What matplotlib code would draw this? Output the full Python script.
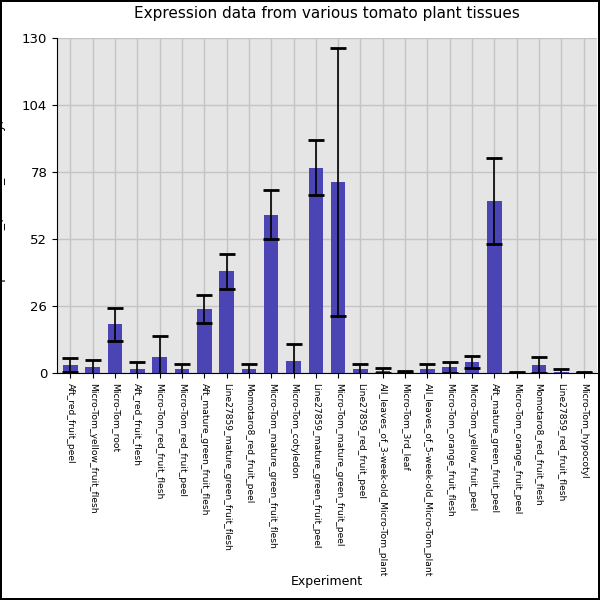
import numpy as np
import matplotlib.pyplot as plt

tissues = ["Aft_red_fruit_peel", "Micro-Tom_yellow_fruit_flesh", "Micro-Tom_root",
           "Aft_red_fruit_flesh", "Micro-Tom_red_fruit_flesh", "Micro-Tom_red_fruit_peel",
           "Aft_mature_green_fruit_flesh", "Line27859_mature_green_fruit_flesh",
           "Momotaro8_red_fruit_peel", "Micro-Tom_mature_green_fruit_flesh",
           "Micro-Tom_cotyledon", "Line27859_mature_green_fruit_peel",
           "Micro-Tom_mature_green_fruit_peel", "Line27859_red_fruit_peel",
           "All_leaves_of_3-week-old_Micro-Tom_plant", "Micro-Tom_3rd_leaf",
           "All_leaves_of_5-week-old_Micro-Tom_plant", "Micro-Tom_orange_fruit_flesh",
           "Micro-Tom_yellow_fruit_peel", "Aft_mature_green_fruit_peel",
           "Micro-Tom_orange_fruit_peel", "Momotaro8_red_fruit_flesh",
           "Line27859_red_fruit_flesh", "Micro-Tom_hypocotyl"]
values = [3.1, 2.3, 19.0, 1.5, 6.2, 1.5, 24.8, 39.5, 1.5, 61.6, 4.7, 79.8,
          74.4, 1.5, 1.0, 0.5, 1.5, 2.3, 4.3, 67.0, 0.3, 3.1, 0.6, 0.3]
errors = [2.8, 3.0, 6.4, 2.7, 8.3, 2.0, 5.5, 6.8, 2.2, 9.5, 6.5, 10.8,
          52.0, 2.0, 0.9, 0.4, 2.0, 2.1, 2.3, 16.7, 0.3, 3.1, 0.9, 0.3]
yticks = [0, 26, 52, 78, 104, 130]

fig = plt.figure(figsize=(6, 6), dpi=100)
fig.patch.set_edgecolor('black')
fig.patch.set_linewidth(1.5)
ax = fig.add_axes([0.095, 0.378, 0.9, 0.558])
ax.set_facecolor('#e5e5e5')
ax.set_axisbelow(True)
ax.grid(True, color='#c4c4c4', linewidth=1)

x = np.arange(len(tissues))
ax.bar(x, values, width=0.65, color='#4b44b5')
ax.errorbar(x, values, yerr=errors, fmt='none', ecolor='black',
            elinewidth=1.2, capsize=6, capthick=2)

ax.set_xlim(-0.6, len(tissues) - 0.4)
ax.set_ylim(0, 130)
ax.set_yticks(yticks)
ax.set_xticks(x)
ax.set_xticklabels(tissues, rotation=-90, fontsize=6.6)
ax.tick_params(axis='y', labelsize=9.5)
for s in ['top', 'right']:
    ax.spines[s].set_visible(False)

ax.set_title("Expression data from various tomato plant tissues", fontsize=11, pad=15)
ax.set_ylabel("Expression_(Fluor._Intensity)", fontsize=9, labelpad=12)
fig.text(0.545, 0.025, "Experiment", ha='center', fontsize=9)

fig.savefig("out.png", dpi=100, edgecolor=fig.get_edgecolor())
